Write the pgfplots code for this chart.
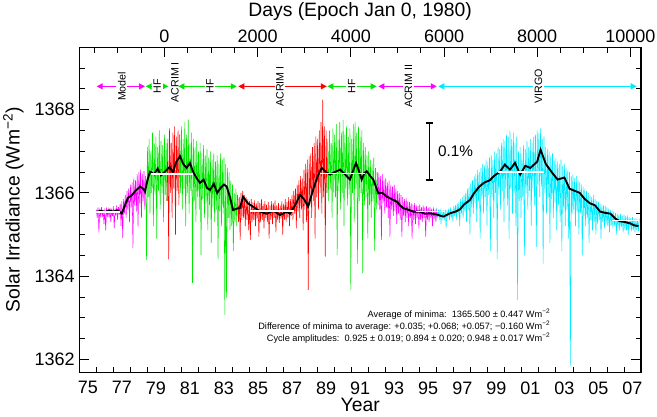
\documentclass[border=0pt]{standalone}
\usepackage{fontspec}
\setmainfont{Liberation Sans}
\usepackage{pgfplots}
\pgfplotsset{compat=1.18}
\usetikzlibrary{arrows.meta}
\definecolor{cmag}{RGB}{255,0,255}
\definecolor{cgrn}{RGB}{0,230,0}
\definecolor{cred}{RGB}{255,0,0}
\definecolor{ccyn}{RGB}{0,235,255}
\tikzset{dbl/.style={line width=0.8pt,arrows={Triangle[length=4.5pt,width=4.5pt]-Triangle[length=4.5pt,width=4.5pt]}},
  lab/.style={rotate=90,fill=white,inner sep=1.2pt,font=\fontsize{8}{9}\selectfont,text=black}}
\begin{document}
\begin{tikzpicture}
\path[use as bounding box] (-59.5pt,-33.5pt) rectangle (433.3pt,279.2pt);
\begin{axis}[
  at={(0,0)}, anchor=south west,
  scale only axis, width=421.3pt, height=243.75pt,
  xmin=1975, xmax=2008, ymin=1361.69, ymax=1369.5,
  xtick={1975.5,1977.5,1979.5,1981.5,1983.5,1985.5,1987.5,1989.5,1991.5,1993.5,1995.5,1997.5,1999.5,2001.5,2003.5,2005.5,2007.5},
  xticklabels={75,77,79,81,83,85,87,89,91,93,95,97,99,01,03,05,07},
  minor xtick={1975,1976,...,2008},
  major x tick style={draw=none},
  xtick pos=left,
  scaled x ticks=false, scaled y ticks=false,
  ytick={1362,1364,1366,1368}, yticklabels={1362,1364,1366,1368},
  minor ytick={1362.5,1363,1363.5,1364.5,1365,1365.5,1366.5,1367,1367.5,1368.5,1369},
  ytick pos=both, yticklabel pos=left,
  tick align=inside,
  major tick length=7.5pt, minor tick length=4pt,
  every tick/.style={black,line width=0.6pt},
  axis line style={line width=0.8pt},
  ticklabel style={font=\fontsize{13.5}{15}\selectfont},
  xticklabel style={yshift=-3.5pt},
  label style={font=\fontsize{14.5}{16}\selectfont},
  /pgf/number format/assume math mode=true,
  xlabel={Year},
  ylabel={Solar Irradiance (Wm\textsuperscript{−2})},
  xlabel style={at={(axis description cs:0.5,-0.1006)},anchor=center},
  ylabel style={at={(axis description cs:-0.1175,0.5)},anchor=center},
]
% Model (magenta)
\addplot[cmag,line width=0.4pt] coordinates {
(1976.00,1365.60)(1976.05,1365.40)(1976.10,1365.65)(1976.15,1365.05)(1976.20,1365.62)(1976.25,1365.45)(1976.30,1365.66)(1976.35,1365.42)(1976.40,1365.60)(1976.45,1365.25)
(1976.50,1365.63)(1976.55,1365.10)(1976.60,1365.65)(1976.65,1365.45)(1976.70,1365.60)(1976.75,1365.40)(1976.80,1365.64)(1976.85,1365.30)(1976.90,1365.62)(1976.95,1365.44)
(1977.00,1365.68)(1977.05,1365.15)(1977.10,1365.63)(1977.15,1365.45)(1977.20,1365.70)(1977.25,1365.35)(1977.30,1365.66)(1977.35,1365.48)(1977.40,1365.75)(1977.45,1365.20)
(1977.50,1365.80)(1977.55,1364.92)(1977.60,1365.85)(1977.65,1365.50)(1977.70,1365.95)(1977.75,1365.40)(1977.80,1366.05)(1977.85,1365.60)(1977.90,1366.10)(1977.95,1365.30)
(1978.00,1366.20)(1978.05,1365.65)(1978.10,1366.25)(1978.15,1364.68)(1978.20,1366.35)(1978.25,1365.70)(1978.30,1366.30)(1978.35,1365.55)(1978.40,1366.45)(1978.45,1365.19)
(1978.50,1366.50)(1978.55,1365.75)(1978.60,1366.56)(1978.65,1365.40)(1978.70,1366.45)(1978.75,1365.80)(1978.80,1366.52)(1978.85,1365.60)(1978.90,1366.40)};
% HF (green)
\addplot[cgrn,line width=0.4pt] coordinates {
(1978.90,1366.40)(1978.95,1364.39)(1979.00,1367.10)(1979.05,1365.90)(1979.10,1367.30)(1979.15,1365.50)(1979.20,1367.00)(1979.25,1366.00)(1979.30,1367.45)(1979.35,1365.20)
(1979.40,1367.20)(1979.45,1365.95)(1979.50,1367.35)(1979.55,1364.90)(1979.60,1367.10)(1979.65,1366.05)(1979.70,1367.50)(1979.75,1365.60)(1979.80,1367.25)(1979.85,1366.00)
(1979.90,1367.15)(1979.95,1365.30)(1980.00,1367.40)(1980.05,1365.95)(1980.10,1367.20)(1980.15,1365.80)};
% ACRIM I SMM (red)
\addplot[cred,line width=0.4pt] coordinates {
(1980.15,1365.80)(1980.20,1367.30)(1980.25,1364.40)(1980.30,1367.55)(1980.35,1366.00)(1980.40,1367.20)(1980.45,1365.40)(1980.50,1367.45)(1980.55,1366.10)(1980.60,1367.60)
(1980.65,1365.00)(1980.70,1367.35)(1980.75,1366.05)(1980.80,1367.50)(1980.85,1365.70)(1980.90,1367.40)};
% HF (green)
\addplot[cgrn,line width=0.4pt] coordinates {
(1980.90,1367.40)(1980.95,1366.00)(1981.00,1367.60)(1981.05,1365.60)(1981.10,1367.30)(1981.15,1366.10)(1981.20,1367.70)(1981.25,1365.20)(1981.30,1367.40)(1981.35,1366.00)
(1981.40,1367.76)(1981.45,1365.50)(1981.50,1367.20)(1981.55,1366.05)(1981.60,1367.45)(1981.65,1363.84)(1981.70,1367.30)(1981.75,1365.80)(1981.80,1367.10)(1981.85,1365.30)
(1981.90,1367.25)(1981.95,1365.90)(1982.00,1367.00)(1982.05,1365.60)(1982.10,1367.20)(1982.15,1364.50)(1982.20,1366.95)(1982.25,1365.85)(1982.30,1367.15)(1982.35,1365.40)
(1982.40,1366.90)(1982.45,1365.75)(1982.50,1367.05)(1982.55,1365.10)(1982.60,1366.85)(1982.65,1365.70)(1982.70,1367.00)(1982.75,1364.80)(1982.80,1366.80)(1982.85,1365.65)
(1982.90,1366.95)(1982.95,1365.30)(1983.00,1366.75)(1983.05,1365.60)(1983.10,1366.90)(1983.15,1364.40)(1983.20,1366.70)(1983.25,1365.55)(1983.30,1366.95)(1983.35,1365.20)
(1983.40,1366.80)(1983.45,1365.50)(1983.50,1366.85)(1983.55,1363.07)(1983.60,1366.70)(1983.65,1363.48)(1983.70,1366.60)(1983.75,1365.40)(1983.80,1366.50)(1983.85,1365.10)
(1983.90,1366.30)(1983.95,1365.20)(1984.00,1366.20)(1984.05,1364.60)(1984.10,1366.00)(1984.15,1365.30)(1984.20,1366.10)(1984.25,1365.20)(1984.30,1365.95)};
% ACRIM I (red)
\addplot[cred,line width=0.4pt] coordinates {
(1984.30,1365.95)(1984.35,1365.30)(1984.40,1365.90)(1984.45,1364.87)(1984.50,1366.00)(1984.55,1365.35)(1984.60,1366.05)(1984.65,1365.40)(1984.70,1365.95)(1984.75,1365.20)
(1984.80,1365.90)(1984.85,1365.35)(1984.90,1365.85)(1984.95,1365.10)(1985.00,1365.80)(1985.05,1364.87)(1985.10,1365.85)(1985.15,1365.30)(1985.20,1365.78)(1985.25,1365.35)
(1985.30,1365.82)(1985.35,1365.20)(1985.40,1365.75)(1985.45,1365.38)(1985.50,1365.80)(1985.55,1364.95)(1985.60,1365.76)(1985.65,1365.30)(1985.70,1365.85)(1985.75,1365.35)
(1985.80,1365.74)(1985.85,1365.15)(1985.90,1365.80)(1985.95,1365.40)(1986.00,1365.72)(1986.05,1365.30)(1986.10,1365.78)(1986.15,1364.90)(1986.20,1365.70)(1986.25,1365.35)
(1986.30,1365.80)(1986.35,1365.25)(1986.40,1365.75)(1986.45,1365.40)(1986.50,1365.82)(1986.55,1365.05)(1986.60,1365.70)(1986.65,1365.35)(1986.70,1365.76)(1986.75,1365.28)
(1986.80,1365.70)(1986.85,1365.38)(1986.90,1365.80)(1986.95,1365.00)(1987.00,1365.74)(1987.05,1365.35)(1987.10,1365.85)(1987.15,1365.30)(1987.20,1365.78)(1987.25,1365.40)
(1987.30,1365.90)(1987.35,1365.20)(1987.40,1365.85)(1987.45,1365.45)(1987.50,1365.95)(1987.55,1365.35)(1987.60,1366.05)(1987.65,1365.50)(1987.70,1366.10)(1987.75,1365.15)
(1987.80,1366.20)(1987.85,1365.55)(1987.90,1366.30)(1987.95,1365.40)(1988.00,1366.40)(1988.05,1365.60)(1988.10,1366.35)(1988.15,1365.10)(1988.20,1366.55)(1988.25,1365.60)
(1988.30,1366.70)(1988.35,1365.30)(1988.40,1366.80)(1988.45,1363.67)(1988.50,1366.88)(1988.55,1365.70)(1988.60,1366.95)(1988.65,1365.40)(1988.70,1367.10)(1988.75,1365.80)
(1988.80,1367.20)(1988.85,1364.90)(1988.90,1367.36)(1988.95,1365.90)(1989.00,1367.30)(1989.05,1365.60)(1989.10,1367.50)(1989.15,1366.00)(1989.20,1367.70)(1989.25,1365.50)
(1989.30,1368.24)(1989.35,1365.90)(1989.40,1367.60)(1989.45,1364.47)(1989.50,1367.50)(1989.55,1366.00)};
% HF (green)
\addplot[cgrn,line width=0.4pt] coordinates {
(1989.55,1366.00)(1989.60,1367.30)(1989.65,1365.80)(1989.70,1367.50)(1989.75,1366.10)(1989.80,1367.20)(1989.85,1365.40)(1989.90,1367.55)(1989.95,1366.00)(1990.00,1367.40)
(1990.05,1365.90)(1990.10,1367.65)(1990.15,1364.50)(1990.20,1367.30)(1990.25,1366.05)(1990.30,1367.70)(1990.35,1365.60)(1990.40,1367.45)(1990.45,1366.00)(1990.50,1367.75)
(1990.55,1365.20)(1990.60,1367.40)(1990.65,1366.10)(1990.70,1367.60)(1990.75,1365.70)(1990.80,1367.35)(1990.85,1365.95)(1990.90,1367.55)(1990.95,1363.67)(1991.00,1367.30)
(1991.05,1366.00)(1991.10,1367.65)(1991.15,1365.30)(1991.20,1367.70)(1991.25,1366.10)(1991.30,1367.45)(1991.35,1364.30)(1991.40,1367.60)(1991.45,1365.80)(1991.50,1367.35)
(1991.55,1366.00)(1991.60,1367.50)(1991.65,1364.07)(1991.70,1367.20)(1991.75,1365.70)(1991.80,1367.10)(1991.85,1365.90)(1991.90,1366.90)(1991.95,1364.90)(1992.00,1367.00)
(1992.05,1365.70)(1992.10,1366.80)(1992.15,1365.40)(1992.20,1366.70)(1992.25,1365.80)(1992.30,1366.85)(1992.35,1364.60)(1992.40,1366.60)(1992.45,1365.60)(1992.50,1366.50)};
% ACRIM II (magenta)
\addplot[cmag,line width=0.4pt] coordinates {
(1992.50,1366.50)(1992.55,1365.70)(1992.60,1366.48)(1992.65,1365.60)(1992.70,1366.40)(1992.75,1364.87)(1992.80,1366.45)(1992.85,1365.75)(1992.90,1366.30)(1992.95,1365.50)
(1993.00,1366.35)(1993.05,1365.65)(1993.10,1366.25)(1993.15,1365.40)(1993.20,1366.30)(1993.25,1364.95)(1993.30,1366.20)(1993.35,1365.60)(1993.40,1366.15)(1993.45,1365.45)
(1993.50,1366.20)(1993.55,1365.55)(1993.60,1366.10)(1993.65,1365.25)(1993.70,1366.05)(1993.75,1365.50)(1993.80,1366.00)(1993.85,1365.35)(1993.90,1365.95)(1993.95,1364.95)
(1994.00,1365.90)(1994.05,1365.45)(1994.10,1365.85)(1994.15,1365.30)(1994.20,1365.88)(1994.25,1365.40)(1994.30,1365.80)(1994.35,1365.20)(1994.40,1365.78)(1994.45,1365.40)
(1994.50,1365.75)(1994.55,1364.90)(1994.60,1365.72)(1994.65,1365.35)(1994.70,1365.76)(1994.75,1365.25)(1994.80,1365.70)(1994.85,1365.40)(1994.90,1365.68)(1994.95,1365.15)
(1995.00,1365.72)(1995.05,1365.35)(1995.10,1365.66)(1995.15,1365.30)(1995.20,1365.70)(1995.25,1365.40)(1995.30,1365.65)(1995.35,1364.95)(1995.40,1365.68)(1995.45,1365.35)
(1995.50,1365.64)(1995.55,1365.30)(1995.60,1365.66)(1995.65,1365.40)(1995.70,1365.62)(1995.75,1365.20)(1995.80,1365.65)(1995.85,1365.38)(1995.90,1365.60)(1995.95,1365.30)(1996.00,1365.62)};
% VIRGO (cyan)
\addplot[ccyn,line width=0.4pt] coordinates {
(1996.00,1365.62)(1996.05,1365.40)(1996.10,1365.60)(1996.15,1365.35)(1996.20,1365.62)(1996.25,1365.25)(1996.30,1365.58)(1996.35,1365.40)(1996.40,1365.55)(1996.45,1365.38)
(1996.50,1365.60)(1996.55,1365.15)(1996.60,1365.58)(1996.65,1365.42)(1996.70,1365.62)(1996.75,1365.35)(1996.80,1365.65)(1996.85,1365.40)(1996.90,1365.60)(1996.95,1365.30)
(1997.00,1365.68)(1997.05,1365.45)(1997.10,1365.70)(1997.15,1365.35)(1997.20,1365.75)(1997.25,1365.48)(1997.30,1365.78)(1997.35,1365.20)(1997.40,1365.85)(1997.45,1365.50)
(1997.50,1365.90)(1997.55,1365.40)(1997.60,1365.95)(1997.65,1365.55)(1997.70,1366.00)(1997.75,1365.30)(1997.80,1366.10)(1997.85,1365.60)(1997.90,1366.15)(1997.95,1365.00)
(1998.00,1366.25)(1998.05,1365.65)(1998.10,1366.30)(1998.15,1365.50)(1998.20,1366.40)(1998.25,1365.75)(1998.30,1366.45)(1998.35,1365.30)(1998.40,1366.55)(1998.45,1365.80)
(1998.50,1366.50)(1998.55,1364.90)(1998.60,1366.60)(1998.65,1365.85)(1998.70,1366.70)(1998.75,1365.50)(1998.80,1366.65)(1998.85,1365.90)(1998.90,1366.80)(1998.95,1365.20)
(1999.00,1366.75)(1999.05,1365.95)(1999.10,1366.85)(1999.15,1364.60)(1999.20,1366.90)(1999.25,1365.90)(1999.30,1366.80)(1999.35,1365.40)(1999.40,1367.00)(1999.45,1366.00)
(1999.50,1366.95)(1999.55,1364.40)(1999.60,1367.10)(1999.65,1365.95)(1999.70,1367.05)(1999.75,1365.60)(1999.80,1367.20)(1999.85,1366.05)(1999.90,1367.30)(1999.95,1365.30)
(2000.00,1367.25)(2000.05,1366.10)(2000.10,1367.40)(2000.15,1365.70)(2000.20,1367.35)(2000.25,1364.90)(2000.30,1367.50)(2000.35,1366.10)(2000.40,1367.30)(2000.45,1365.50)
(2000.50,1367.45)(2000.55,1366.00)(2000.60,1367.20)(2000.65,1365.20)(2000.70,1367.35)(2000.75,1363.43)(2000.80,1367.00)(2000.85,1365.80)(2000.90,1367.10)(2000.95,1365.40)
(2001.00,1366.95)(2001.05,1365.90)(2001.10,1367.15)(2001.15,1364.50)(2001.20,1367.05)(2001.25,1366.00)(2001.30,1367.25)(2001.35,1365.60)(2001.40,1367.10)(2001.45,1366.05)
(2001.50,1367.30)(2001.55,1365.20)(2001.60,1367.20)(2001.65,1366.10)(2001.70,1367.35)(2001.75,1365.70)(2001.80,1367.40)(2001.85,1364.70)(2001.90,1367.50)(2001.95,1366.20)
(2002.00,1367.45)(2002.05,1365.90)(2002.10,1367.55)(2002.15,1366.15)(2002.20,1367.30)(2002.25,1364.30)(2002.30,1367.35)(2002.35,1366.00)(2002.40,1367.10)(2002.45,1365.50)
(2002.50,1367.05)(2002.55,1365.90)(2002.60,1367.00)(2002.65,1364.80)(2002.70,1366.90)(2002.75,1365.85)(2002.80,1366.95)(2002.85,1365.40)(2002.90,1366.80)(2002.95,1365.75)
(2003.00,1366.85)(2003.05,1365.10)(2003.10,1366.75)(2003.15,1365.70)(2003.20,1366.70)(2003.25,1365.30)(2003.30,1366.80)(2003.35,1364.60)(2003.40,1366.65)(2003.45,1365.65)
(2003.50,1366.70)(2003.55,1365.20)(2003.60,1366.60)(2003.65,1365.60)(2003.70,1366.55)(2003.75,1364.90)(2003.80,1366.50)(2003.85,1361.85)(2003.90,1366.40)(2003.95,1365.50)
(2004.00,1366.45)(2004.05,1365.60)(2004.10,1366.35)(2004.15,1365.20)(2004.20,1366.40)(2004.25,1365.55)(2004.30,1366.30)(2004.35,1365.00)(2004.40,1366.25)(2004.45,1365.50)
(2004.50,1366.20)(2004.55,1364.50)(2004.60,1366.15)(2004.65,1365.45)(2004.70,1366.10)(2004.75,1365.20)(2004.80,1366.05)(2004.85,1365.40)(2004.90,1366.00)(2004.95,1364.80)
(2005.00,1365.95)(2005.05,1365.35)(2005.10,1365.90)(2005.15,1365.10)(2005.20,1365.95)(2005.25,1365.30)(2005.30,1365.85)(2005.35,1365.00)(2005.40,1365.80)(2005.45,1365.25)
(2005.50,1365.78)(2005.55,1365.35)(2005.60,1365.75)(2005.65,1364.90)(2005.70,1365.72)(2005.75,1365.30)(2005.80,1365.70)(2005.85,1365.15)(2005.90,1365.68)(2005.95,1365.25)
(2006.00,1365.65)(2006.05,1365.20)(2006.10,1365.62)(2006.15,1365.05)(2006.20,1365.60)(2006.25,1365.22)(2006.30,1365.58)(2006.35,1365.15)(2006.40,1365.55)(2006.45,1365.20)
(2006.50,1365.52)(2006.55,1365.00)(2006.60,1365.50)(2006.65,1365.15)(2006.70,1365.48)(2006.75,1365.10)(2006.80,1365.50)(2006.85,1365.18)(2006.90,1365.45)(2006.95,1365.05)
(2007.00,1365.48)(2007.05,1365.12)(2007.10,1365.44)(2007.15,1365.10)(2007.20,1365.46)(2007.25,1365.00)(2007.30,1365.42)(2007.35,1365.12)(2007.40,1365.40)(2007.45,1365.08)
(2007.50,1365.42)(2007.55,1365.10)(2007.60,1365.38)(2007.65,1365.05)(2007.70,1365.40)(2007.75,1365.10)(2007.80,1365.36)(2007.85,1365.08)(2007.90,1365.38)};
% running mean (black)
\addplot[black,line width=1.4pt] coordinates {
(1976.02,1365.55)(1976.3,1365.57)(1976.5,1365.54)(1976.75,1365.58)(1976.98,1365.55)(1977.25,1365.58)(1977.49,1365.50)(1977.7,1365.72)(1977.86,1365.88)(1978.1,1365.95)
(1978.3,1366.05)(1978.57,1366.15)(1978.75,1366.10)(1978.86,1366.03)(1979.0,1366.30)(1979.15,1366.51)(1979.4,1366.45)(1979.6,1366.58)(1979.8,1366.42)(1980.03,1366.51)
(1980.3,1366.62)(1980.5,1366.50)(1980.7,1366.75)(1980.92,1366.88)(1981.1,1366.70)(1981.3,1366.60)(1981.5,1366.72)(1981.68,1366.51)(1981.9,1366.35)(1982.09,1366.24)
(1982.3,1366.32)(1982.5,1366.12)(1982.68,1366.07)(1982.9,1366.22)(1983.1,1366.00)(1983.3,1366.12)(1983.5,1366.20)(1983.66,1366.15)(1983.85,1365.90)(1984.03,1365.59)
(1984.25,1365.62)(1984.44,1365.64)(1984.62,1365.91)(1984.9,1365.75)(1985.2,1365.67)(1985.62,1365.55)(1986.0,1365.50)(1986.4,1365.57)(1986.8,1365.47)(1987.2,1365.55)
(1987.38,1365.50)(1987.7,1365.72)(1987.97,1365.95)(1988.2,1365.85)(1988.44,1365.67)(1988.73,1366.07)(1989.0,1366.40)(1989.24,1366.60)(1989.5,1366.50)(1989.73,1366.44)
(1990.0,1366.50)(1990.32,1366.56)(1990.6,1366.45)(1990.9,1366.32)(1991.1,1366.55)(1991.26,1366.72)(1991.45,1366.50)(1991.59,1366.32)(1991.75,1366.48)(1991.89,1366.52)
(1992.1,1366.40)(1992.27,1366.32)(1992.57,1365.99)(1992.8,1366.00)(1993.06,1365.91)(1993.35,1365.85)(1993.65,1365.79)(1993.85,1365.70)(1994.04,1365.63)(1994.3,1365.60)
(1994.62,1365.55)(1995.0,1365.55)(1995.3,1365.50)(1995.6,1365.51)(1996.0,1365.48)(1996.39,1365.43)(1996.78,1365.51)(1997.1,1365.55)(1997.35,1365.60)(1997.6,1365.72)
(1997.95,1365.83)(1998.2,1366.00)(1998.5,1366.15)(1998.8,1366.25)(1999.1,1366.30)(1999.4,1366.42)(1999.7,1366.50)(2000.0,1366.68)(2000.3,1366.56)(2000.6,1366.72)
(2000.9,1366.44)(2001.2,1366.65)(2001.5,1366.60)(2001.9,1366.75)(2002.1,1367.04)(2002.4,1366.70)(2002.75,1366.50)(2003.1,1366.32)(2003.5,1366.37)(2003.8,1366.10)
(2004.1,1366.05)(2004.4,1366.00)(2004.7,1365.85)(2005.0,1365.75)(2005.3,1365.70)(2005.6,1365.55)(2005.9,1365.52)(2006.2,1365.50)(2006.5,1365.38)(2006.75,1365.32)
(2007.05,1365.30)(2007.35,1365.27)(2007.6,1365.22)(2007.85,1365.20)};
% minima / maxima levels (white)
\addplot[white,line width=1.2pt] coordinates {(1976.0,1365.535)(1977.4,1365.535)};
\addplot[white,line width=1.2pt] coordinates {(1979.2,1366.46)(1981.7,1366.46)};
\addplot[white,line width=1.2pt] coordinates {(1985.0,1365.568)(1987.6,1365.568)};
\addplot[white,line width=1.2pt] coordinates {(1989.15,1366.462)(1991.8,1366.462)};
\addplot[white,line width=1.2pt] coordinates {(1994.8,1365.557)(1996.5,1365.557)};
\addplot[white,line width=1.2pt] coordinates {(1999.6,1366.505)(2002.3,1366.505)};
\addplot[white,line width=1.2pt] coordinates {(2006.3,1365.34)(2007.9,1365.34)};
% instrument arrows
\addplot[cmag,dbl] coordinates {(1976.02,1368.56)(1978.86,1368.56)};
\addplot[cgrn,dbl] coordinates {(1978.90,1368.56)(1980.23,1368.56)};
\addplot[cgrn,dbl] coordinates {(1980.82,1368.56)(1984.25,1368.56)};
\addplot[cred,dbl] coordinates {(1984.34,1368.56)(1989.54,1368.56)};
\addplot[cgrn,dbl] coordinates {(1989.57,1368.56)(1992.47,1368.56)};
\addplot[cmag,dbl] coordinates {(1992.57,1368.56)(1996.00,1368.56)};
\addplot[ccyn,dbl] coordinates {(1996.09,1368.56)(2007.75,1368.56)};
\node[lab] at (axis cs:1977.49,1368.56) {Model};
\node[lab] at (axis cs:1979.58,1368.56) {HF};
\node[lab,fill=none] at (axis cs:1980.62,1368.66) {ACRIM I};
\node[lab] at (axis cs:1982.68,1368.56) {HF};
\node[lab] at (axis cs:1986.79,1368.56) {ACRIM I};
\node[lab] at (axis cs:1991.00,1368.56) {HF};
\node[lab] at (axis cs:1994.33,1368.56) {ACRIM II};
\node[lab] at (axis cs:2001.97,1368.56) {VIRGO};
% 0.1% scale bar
\addplot[black,line width=0.8pt] coordinates {(1995.56,1367.68)(1995.56,1366.31)};
\addplot[black,line width=0.8pt] coordinates {(1995.36,1367.68)(1995.76,1367.68)};
\addplot[black,line width=0.8pt] coordinates {(1995.36,1366.31)(1995.76,1366.31)};
\node[anchor=west,font=\fontsize{11.5}{12}\selectfont] at (axis cs:1995.80,1367.0) {0.1\%};
\node[anchor=east,align=right,font=\fontsize{6.9}{9}\selectfont] at (axis cs:2002.95,1362.8)
  {Average of minima:\ \ 1365.500 ± 0.447 Wm\textsuperscript{−2}\\
   Difference of minima to average: +0.035; +0.068; +0.057; −0.160 Wm\textsuperscript{−2}\\
   Cycle amplitudes:\ \ 0.925 ± 0.019; 0.894 ± 0.020; 0.948 ± 0.017 Wm\textsuperscript{−2}};
\end{axis}
\begin{axis}[
  at={(0,0)}, anchor=south west,
  scale only axis, width=421.3pt, height=243.75pt,
  xmin=-1826.25, xmax=10226.75, ymin=0, ymax=1,
  xtick={0,2000,4000,6000,8000,10000},
  xticklabels={0,2000,4000,6000,8000,10000},
  minor xtick={-1500,-1000,...,10000},
  scaled x ticks=false,
  xtick pos=right, xticklabel pos=right,
  ytick=\empty,
  tick align=inside,
  major tick length=7.5pt, minor tick length=4pt,
  every tick/.style={black,line width=0.6pt},
  axis line style={line width=0.8pt},
  ticklabel style={font=\fontsize{13.5}{15}\selectfont},
  /pgf/number format/assume math mode=true,
  xlabel={Days (Epoch Jan 0, 1980)},
  xlabel style={at={(axis description cs:0.5,1.1086)},anchor=center,font=\fontsize{14.5}{16}\selectfont},
]
\addplot[draw=none] coordinates {(0,0.5)};
\end{axis}
\end{tikzpicture}
\end{document}
